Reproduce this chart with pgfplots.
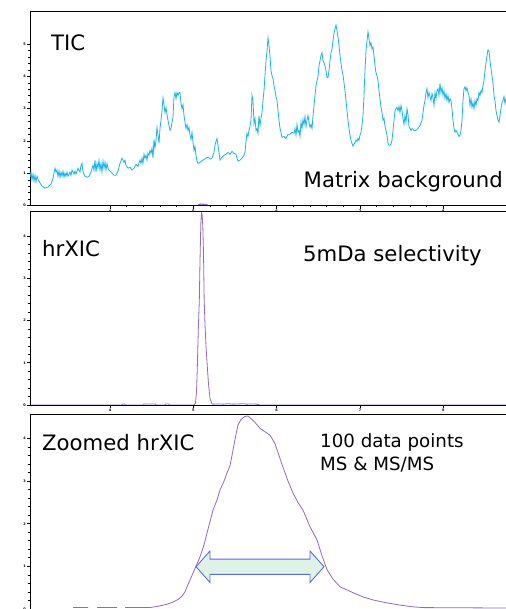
\documentclass[border=0pt]{standalone}
\usepackage{fontspec}
\setmainfont{DejaVu Sans}
\usepackage{pgfplots}
\pgfplotsset{compat=1.18}
\definecolor{tic}{HTML}{1AB4EC}
\definecolor{xic}{HTML}{9467C8}
\definecolor{arrfill}{HTML}{DFF2E8}
\definecolor{arrdraw}{HTML}{5A6AE0}
\pgfplotsset{
  panel/.style={
    scale only axis, width=482bp,
    axis line style={line width=0.7bp},
    tick align=outside, xtick pos=bottom, ytick pos=left,
    major tick length=3bp, minor tick length=1.5bp,
    every tick/.style={black, line width=0.6bp},
    minor x tick num=4, minor y tick num=4,
    /pgf/number format/assume math mode=true,
    tick label style={font=\fontsize{3.5}{4}\selectfont\bfseries, inner sep=1bp},
    ytick={0,1,2,3,4,5},
    clip=true,
  },
  timeaxis/.style={xmin=3.04, xmax=8.824, xtick={4,5,6,7,8}},
}
\newcommand{\intens}[1]{\node[anchor=north east, align=right, font=\fontsize{2.6}{3}\selectfont\bfseries, inner sep=0pt] at ([xshift=-3bp,yshift=1bp]rel axis cs:0,1) {Intens.\\x10$^{#1}$};}
\newcommand{\timelbl}{\node[anchor=north, font=\fontsize{2.6}{3}\selectfont\bfseries, inner sep=0pt] at ([yshift=-3bp]rel axis cs:0.965,0) {Time [min]};}
\begin{document}
\begin{tikzpicture}
\clip (0,0) rectangle (506bp,609bp);
% ---------------- Panel 1: TIC ----------------
\begin{axis}[panel, timeaxis, at={(30bp,403.3bp)}, anchor=south west, height=194bp, ymin=0, ymax=6]
\addplot[tic, line width=0.8bp] table {
3.040 0.88
3.052 1.04
3.064 0.79
3.076 0.98
3.088 0.76
3.100 0.94
3.112 0.73
3.124 0.91
3.136 0.82
3.160 0.70
3.184 0.61
3.220 0.54
3.256 0.58
3.292 0.67
3.316 0.85
3.340 1.16
3.352 1.04
3.364 1.10
3.376 0.91
3.388 1.07
3.400 0.88
3.412 1.04
3.424 0.91
3.436 1.07
3.448 0.88
3.460 1.01
3.472 0.91
3.484 1.04
3.496 0.91
3.520 1.04
3.532 0.94
3.544 1.10
3.568 0.98
3.580 1.07
3.592 0.98
3.616 1.16
3.640 1.04
3.652 1.25
3.664 1.31
3.676 1.04
3.700 0.91
3.724 0.88
3.748 0.91
3.772 1.04
3.796 1.25
3.808 1.10
3.820 1.41
3.832 1.04
3.844 1.31
3.856 1.16
3.868 1.41
3.880 1.10
3.892 1.31
3.904 1.04
3.916 1.38
3.928 1.16
3.940 1.34
3.952 1.10
3.964 1.31
3.976 1.16
3.988 1.10
4.000 1.07
4.024 1.01
4.048 0.94
4.072 0.94
4.096 1.07
4.120 1.31
4.144 1.47
4.168 1.34
4.180 1.41
4.192 1.25
4.216 1.16
4.240 1.19
4.264 1.10
4.288 1.16
4.312 1.28
4.336 1.22
4.360 1.41
4.372 1.31
4.384 1.47
4.396 1.31
4.408 1.59
4.420 1.47
4.432 1.56
4.444 1.41
4.456 1.62
4.468 1.56
4.480 1.71
4.492 1.62
4.504 1.78
4.516 1.47
4.528 2.05
4.540 1.78
4.552 2.02
4.564 2.42
4.576 2.18
4.588 1.93
4.600 2.39
4.612 2.64
4.624 2.94
4.636 3.34
4.648 3.13
4.660 2.88
4.672 3.04
4.684 2.82
4.696 2.64
4.708 2.48
4.720 2.33
4.732 2.39
4.744 2.58
4.756 2.73
4.768 3.38
4.780 3.50
4.792 3.31
4.804 3.50
4.816 3.41
4.828 3.50
4.840 3.50
4.852 3.16
4.864 3.00
4.876 3.13
4.888 2.79
4.900 2.58
4.912 2.39
4.924 2.51
4.936 2.33
4.948 2.42
4.960 2.18
4.972 2.05
4.984 2.27
4.996 1.96
5.008 1.71
5.020 1.84
5.032 1.56
5.044 1.38
5.056 1.31
5.080 1.34
5.116 1.41
5.152 1.47
5.176 1.50
5.200 1.44
5.224 1.47
5.248 1.65
5.260 1.87
5.272 1.99
5.284 2.08
5.296 1.87
5.308 1.65
5.320 1.41
5.344 1.50
5.368 1.56
5.392 1.59
5.416 1.65
5.440 1.59
5.464 1.68
5.488 1.62
5.512 1.59
5.524 1.47
5.536 1.38
5.560 1.41
5.584 1.47
5.608 1.56
5.620 1.65
5.632 1.99
5.644 2.24
5.656 2.14
5.668 2.33
5.680 2.45
5.692 2.64
5.704 3.41
5.716 3.25
5.728 2.54
5.740 2.70
5.752 2.33
5.764 2.39
5.776 2.24
5.788 2.79
5.800 2.48
5.812 2.70
5.824 2.88
5.836 3.25
5.848 3.56
5.860 4.02
5.872 4.48
5.884 4.79
5.896 5.19
5.908 4.95
5.920 4.64
5.932 4.18
5.944 4.02
5.956 3.93
5.968 3.71
5.980 3.56
5.992 3.38
6.004 3.25
6.016 2.94
6.028 2.64
6.040 2.39
6.052 2.27
6.064 2.11
6.088 2.14
6.112 2.08
6.136 2.21
6.160 2.21
6.184 2.27
6.208 2.24
6.220 2.39
6.232 2.18
6.244 2.51
6.256 2.27
6.268 2.33
6.280 2.14
6.292 2.58
6.304 2.39
6.316 2.67
6.328 2.51
6.340 2.76
6.352 2.45
6.364 2.64
6.376 2.79
6.388 2.58
6.400 2.42
6.412 2.51
6.424 2.39
6.436 2.76
6.448 3.10
6.460 3.41
6.472 3.71
6.484 3.87
6.496 3.99
6.508 4.33
6.520 4.48
6.532 4.64
6.544 4.73
6.556 4.48
6.568 4.42
6.580 4.33
6.592 4.18
6.604 3.96
6.616 3.96
6.628 4.18
6.640 4.48
6.652 4.73
6.664 4.85
6.676 5.10
6.688 5.34
6.700 5.47
6.712 5.59
6.724 5.41
6.736 5.22
6.748 4.95
6.760 4.64
6.772 4.42
6.784 4.18
6.796 4.05
6.808 3.80
6.820 3.56
6.832 3.25
6.844 2.94
6.856 2.64
6.868 2.39
6.880 2.18
6.892 2.02
6.904 1.93
6.916 1.84
6.928 1.90
6.940 1.96
6.952 2.02
6.964 1.99
6.976 2.08
6.988 2.02
7.000 2.18
7.012 2.27
7.024 2.48
7.036 2.79
7.048 3.41
7.060 4.18
7.072 4.79
7.084 5.10
7.096 5.38
7.108 5.16
7.120 4.95
7.132 5.04
7.144 4.85
7.156 4.91
7.168 4.64
7.180 4.33
7.192 4.11
7.204 4.02
7.216 3.87
7.228 3.56
7.240 3.31
7.252 3.04
7.264 2.88
7.276 2.64
7.288 2.70
7.300 2.45
7.312 2.33
7.324 2.18
7.336 1.93
7.348 1.87
7.360 1.87
7.372 1.90
7.384 2.02
7.396 2.33
7.408 2.64
7.420 2.94
7.432 3.00
7.444 3.04
7.456 2.94
7.468 3.07
7.480 2.88
7.492 3.10
7.504 2.94
7.516 2.70
7.528 2.51
7.540 2.79
7.552 2.58
7.564 3.00
7.576 2.82
7.588 2.45
7.600 2.39
7.612 2.33
7.624 2.39
7.648 2.33
7.672 2.33
7.696 2.39
7.720 2.48
7.744 2.64
7.756 2.88
7.768 3.10
7.780 3.25
7.792 3.50
7.804 3.62
7.816 3.34
7.828 3.50
7.840 3.38
7.852 3.25
7.864 3.47
7.876 3.34
7.888 3.10
7.900 3.50
7.912 3.31
7.924 3.56
7.936 3.62
7.948 3.41
7.960 3.78
7.972 3.50
7.984 3.65
7.996 3.41
8.008 3.56
8.020 3.31
8.032 3.47
8.044 3.25
8.056 3.41
8.068 3.19
8.080 3.31
8.092 3.25
8.104 3.00
8.116 2.64
8.128 2.39
8.140 2.27
8.152 2.33
8.164 2.27
8.176 2.21
8.188 2.14
8.200 2.18
8.212 2.33
8.224 2.64
8.236 3.25
8.248 3.62
8.260 3.68
8.272 3.56
8.284 3.65
8.296 3.50
8.308 3.41
8.320 3.10
8.332 3.31
8.344 3.04
8.356 3.19
8.368 3.00
8.380 3.25
8.392 3.10
8.404 3.31
8.416 3.25
8.428 3.50
8.440 3.41
8.452 3.56
8.464 3.50
8.476 3.71
8.488 3.87
8.500 4.18
8.512 4.42
8.524 4.64
8.536 4.82
8.548 4.79
8.560 4.48
8.572 4.24
8.584 4.02
8.596 3.78
8.608 3.41
8.620 3.25
8.632 2.94
8.644 2.79
8.656 2.64
8.668 2.58
8.680 2.79
8.692 3.00
8.704 3.19
8.716 3.25
8.728 3.38
8.740 3.16
8.752 3.31
8.776 3.41
8.824 3.25
};
\addplot[xic, line width=1.2bp] coordinates {(5.06,0.03) (5.09,0.05) (5.12,0.045) (5.17,0.03)};
\intens{8}
\timelbl
\node[anchor=base west, font=\fontsize{21.3}{24}\selectfont, inner sep=0pt] at (axis cs:3.292,4.8) {TIC};
\node[anchor=base east, font=\fontsize{21.3}{24}\selectfont, inner sep=0pt] at (axis cs:8.716,0.57) {Matrix background};
\end{axis}
% ---------------- Panel 2: hrXIC ----------------
\begin{axis}[panel, timeaxis, at={(30bp,204bp)}, anchor=south west, height=193.3bp, ymin=0, ymax=4.575, axis on top, ytick={0,1,2,3,4}]
\addplot[xic, line width=0.8bp] table {
3.040 0
4.140 0
4.150 0.025
4.175 0.025
4.185 0
4.400 0
4.410 0.025
4.540 0.025
4.550 0
4.660 0
4.670 0.025
4.705 0.025
4.715 0
5.008 0
5.026 0.05
5.038 0.30
5.048 0.90
5.060 1.80
5.072 2.50
5.080 3.40
5.090 4.30
5.098 4.55
5.106 4.50
5.114 4.20
5.122 3.60
5.130 2.50
5.140 1.90
5.152 1.40
5.168 0.90
5.182 0.50
5.200 0.15
5.224 0.03
5.236 0.02
5.300 0.025
5.360 0.02
5.420 0.03
5.480 0.02
5.540 0.025
5.600 0.03
5.640 0.02
5.700 0.025
5.760 0.02
5.800 0
8.824 0
};
\intens{6}
\timelbl
\node[anchor=base west, font=\fontsize{21.3}{24}\selectfont, inner sep=0pt] at (axis cs:3.184,3.52) {hrXIC};
\node[anchor=base west, font=\fontsize{21.3}{24}\selectfont, inner sep=0pt] at (axis cs:6.316,3.40) {5mDa selectivity};
\end{axis}
% ---------------- Panel 3: Zoomed hrXIC ----------------
\begin{axis}[panel, at={(30bp,-2bp)}, anchor=south west, height=196.7bp, xmin=30, xmax=512, ymin=-0.05, ymax=4.57, axis on top, xtick=\empty, ytick={0,1,2,3,4}, unbounded coords=jump]
\addplot[xic, line width=0.8bp] table {
73 0.03
88 0.03
88.5 nan
97 0.03
117 0.03
117.5 nan
125 0.03
150 0.03
160 0.07
167 0.11
173 0.16
178 0.22
182 0.30
185 0.40
187 0.52
190 0.68
193 0.84
196 1.00
200 1.22
204 1.50
207 1.78
210 2.05
213 2.32
217 2.56
220 2.79
224 3.00
227 3.19
230 3.36
233 3.73
236 4.10
238 4.32
241 4.45
245 4.52
248 4.53
251 4.47
255 4.38
260 4.24
265 4.16
270 4.08
275 3.88
279 3.60
283 3.33
288 3.00
293 2.72
298 2.50
303 2.32
310 1.93
317 1.62
322 1.25
327 0.92
333 0.70
340 0.52
353 0.38
363 0.28
373 0.21
387 0.14
400 0.09
412 0.05
423 0.03
506 0.02
512 0.02
};
\draw[arrdraw, fill=arrfill, line width=0.9bp, line join=miter]
  (axis cs:196,0.99) -- (axis cs:210,1.36) -- (axis cs:210,1.17) -- (axis cs:310,1.17) -- (axis cs:310,1.36)
  -- (axis cs:324,0.99) -- (axis cs:310,0.62) -- (axis cs:310,0.81) -- (axis cs:210,0.81) -- (axis cs:210,0.62) -- cycle;
\intens{5}
\node[anchor=base west, font=\fontsize{21.3}{24}\selectfont, inner sep=0pt] at (axis cs:42,3.73) {Zoomed hrXIC};
\node[anchor=base west, align=left, font=\fontsize{18.3}{22.5}\selectfont, inner sep=0pt] at (axis cs:320,3.80) {100 data points};
\node[anchor=base west, font=\fontsize{18.3}{22.5}\selectfont, inner sep=0pt] at (axis cs:320,3.26) {MS \& MS/MS};
\end{axis}
\end{tikzpicture}
\end{document}
